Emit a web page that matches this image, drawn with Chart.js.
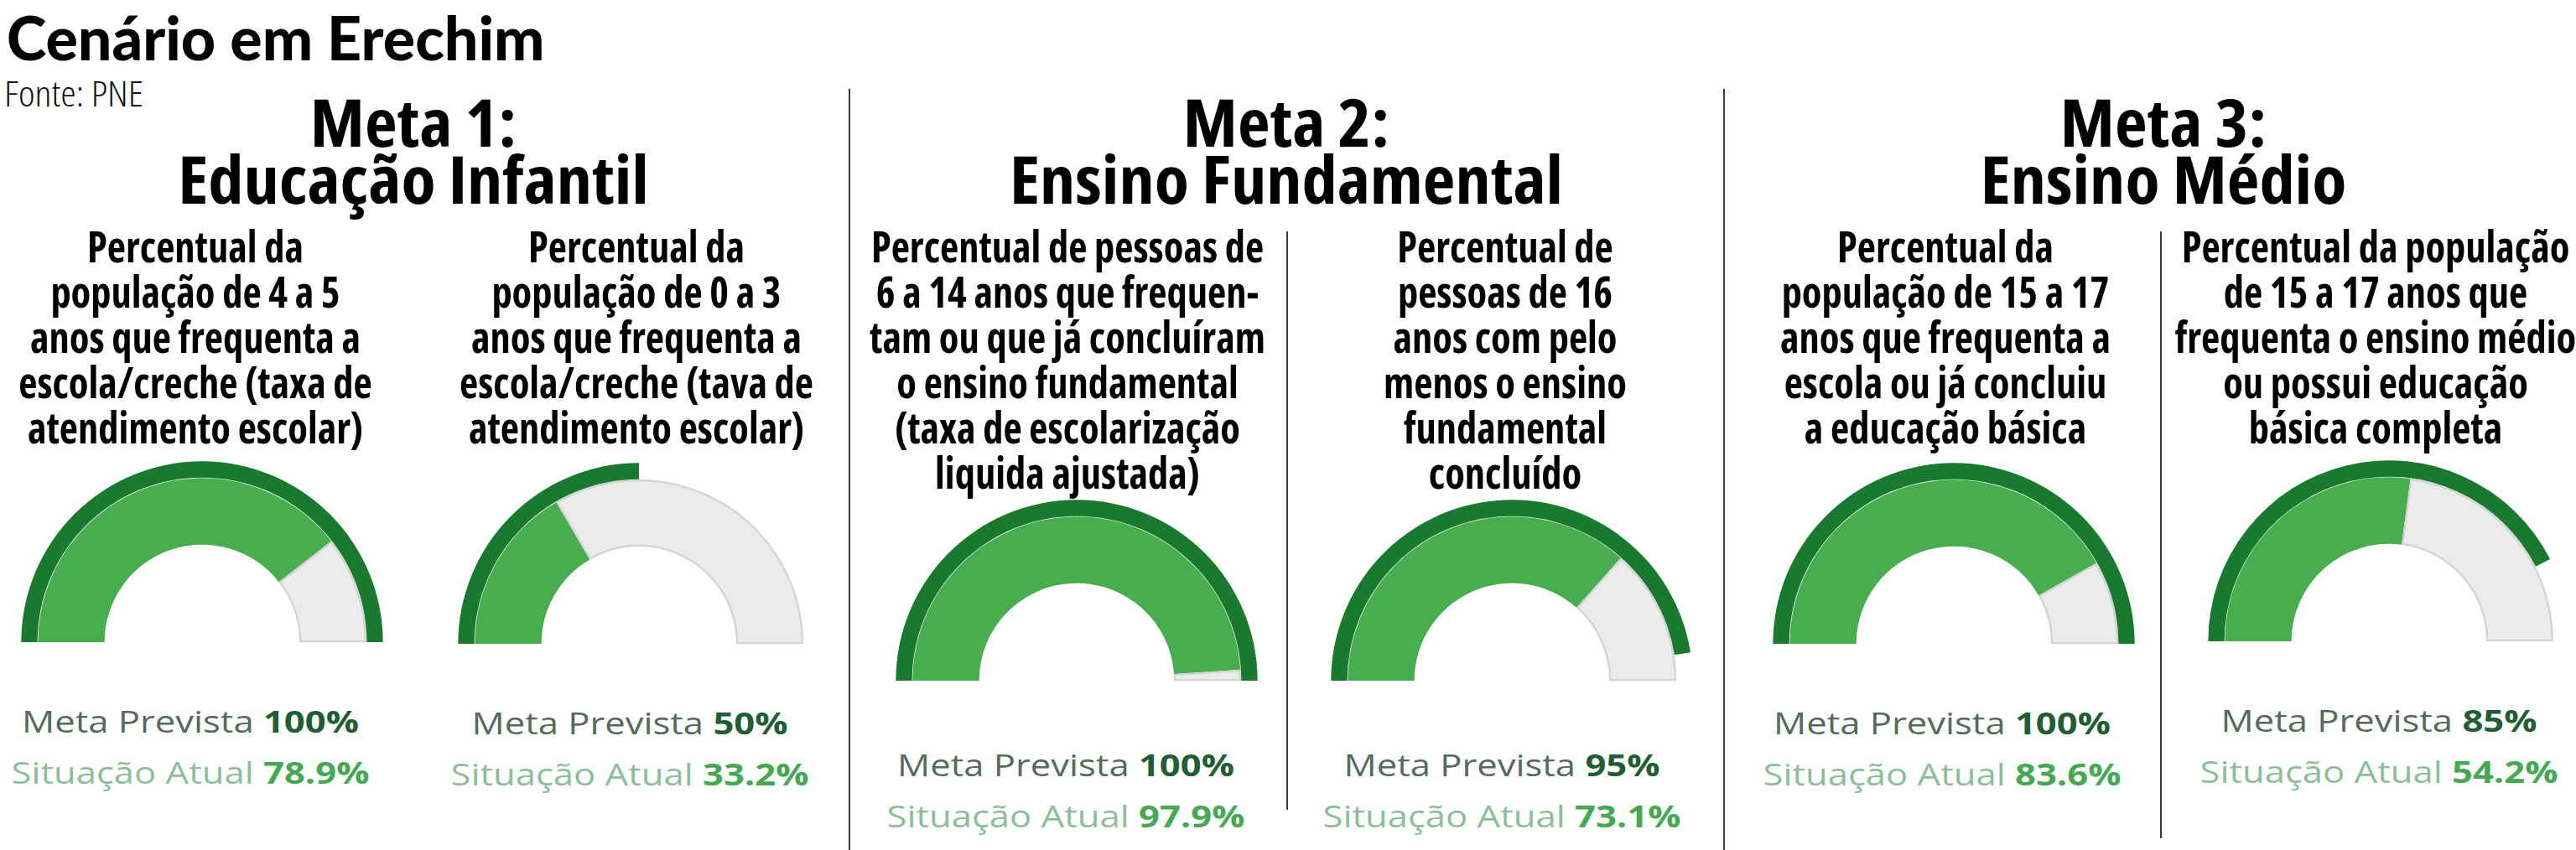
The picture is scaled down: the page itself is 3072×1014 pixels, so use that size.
<!DOCTYPE html>
<html>
<head>
<meta charset="utf-8">
<script src="https://cdn.jsdelivr.net/npm/chart.js@4.4.1/dist/chart.umd.min.js"></script>
<style>
  body { margin: 0; background: #fff; }
  #page { position: relative; width: 3072px; height: 1014px; overflow: hidden; background: #fff; }
  .txt { position: absolute; white-space: nowrap; transform-origin: 50% 0; }
  .cond { font-family: "Open Sans", "Noto Sans", sans-serif; font-weight: 700; color: #000; text-align: center; }
  .titulo { font-family: Lato, "Open Sans", sans-serif; font-weight: 900; font-size: 72px; line-height: 72px; color: #000; }
  .meta { font-size: 78px; line-height: 68px; font-stretch: 87.5%; }
  .ind { font-size: 52px; line-height: 54px; font-stretch: 75%; }
  .fonte { font-family: "Open Sans", sans-serif; font-weight: 300; font-size: 42px; line-height: 42px; font-stretch: 75%; color: #111; }
  .lab { font-family: "Open Sans", "Noto Sans", sans-serif; font-size: 36px; line-height: 36px; font-weight: 400; }
  .lab b { font-weight: 700; }
  .prev { color: #56695e; }
  .prev b { color: #1f5e34; }
  .atual { color: #8cbe9b; }
  .atual b { color: #45a853; }
  .sep { position: absolute; width: 2px; background: #3a3a3a; }
  .gauge { position: absolute; }
</style>
</head>
<body>
<div id="page"></div>
<script>
const metas = ['Meta 1:', 'Meta 2:', 'Meta 3:'];
const etapas = ['Educação Infantil', 'Ensino Fundamental', 'Ensino Médio'];
const indicadores = [
  ['Percentual da', 'população de 4 a 5', 'anos que frequenta a', 'escola/creche (taxa de', 'atendimento escolar)'],
  ['Percentual da', 'população de 0 a 3', 'anos que frequenta a', 'escola/creche (tava de', 'atendimento escolar)'],
  ['Percentual de pessoas de', '6 a 14 anos que frequen-', 'tam ou que já concluíram', 'o ensino fundamental', '(taxa de escolarização', 'liquida ajustada)'],
  ['Percentual de', 'pessoas de 16', 'anos com pelo', 'menos o ensino', 'fundamental', 'concluído'],
  ['Percentual da', 'população de 15 a 17', 'anos que frequenta a', 'escola ou já concluiu', 'a educação básica'],
  ['Percentual da população', 'de 15 a 17 anos que', 'frequenta o ensino médio', 'ou possui educação', 'básica completa']
];
const metaPrevista = [100, 50, 100, 95, 100, 85];
const situacaoAtual = [78.9, 33.2, 97.9, 73.1, 83.6, 54.2];

// posicoes
const headerX = [493, 1534, 2580];
const textX = [233, 759, 1273, 1795, 2320, 2833];
const gaugeX = [241, 762, 1284, 1803, 2330, 2849];
const gaugeBase = [766, 768, 812, 812, 768, 765];
const labelX = [227, 751, 1271, 1791, 2316, 2837];
const labelBase = [875, 877, 927, 927, 877, 874];

const verdeEscuro = '#197a2f';
const verde = '#48ad4f';
const cinza = '#ebebeb';

const page = document.getElementById('page');

function addText(cls, html, x, top) {
  const d = document.createElement('div');
  d.className = 'txt ' + cls;
  d.innerHTML = html;
  d.style.left = x + 'px';
  d.style.top = top + 'px';
  page.appendChild(d);
  return d;
}

function addSep(x, top, h) {
  const d = document.createElement('div');
  d.className = 'sep';
  d.style.left = x + 'px';
  d.style.top = top + 'px';
  d.style.height = h + 'px';
  page.appendChild(d);
}

const titulo = addText('titulo', 'Cenário em Erechim', 8, 8);
titulo.style.transformOrigin = '0 0';
const fonte = addText('fonte', 'Fonte: PNE', 5, 90);
fonte.style.transformOrigin = '0 0';

const headers = [];
metas.forEach((m, i) => {
  headers.push(addText('cond meta', m, headerX[i], 111));
  headers.push(addText('cond meta', etapas[i], headerX[i], 179));
});

const linhasInd = [];
let linhaRef = null;
indicadores.forEach((linhas, i) => {
  linhas.forEach((l, j) => {
    const d = addText('cond ind', l, textX[i], 266 + j * 54);
    if (i === 2 && j === 0) linhaRef = d;
    linhasInd.push(d);
  });
});

const labels = [];
metaPrevista.forEach((v, i) => {
  labels.push(addText('lab prev', 'Meta Prevista <b>' + v + '%</b>', labelX[i], labelBase[i] - 32));
  labels.push(addText('lab atual', 'Situação Atual <b>' + situacaoAtual[i] + '%</b>', labelX[i], labelBase[i] + 61 - 32));
});

addSep(1012, 106, 908);
addSep(2055, 106, 908);
addSep(1534, 276, 690);
addSep(2576, 276, 724);

function fit() {
  titulo.style.transform = 'scaleX(' + (642 / titulo.offsetWidth) + ')';
  fonte.style.transform = 'scaleX(' + (166 / fonte.offsetWidth) + ')';
  const hs = 660 / headers[3].offsetWidth;
  headers.forEach(h => h.style.transform = 'translateX(-50%) scaleX(' + hs + ')');
  const is = 468 / linhaRef.offsetWidth;
  linhasInd.forEach(b => b.style.transform = 'translateX(-50%) scaleX(' + is + ')');
  const ls = 402 / labels[0].offsetWidth;
  labels.forEach(l => l.style.transform = 'translateX(-50%) scaleX(' + ls + ')');
}
fit();
document.fonts.ready.then(fit);

metaPrevista.forEach((meta, i) => {
  const R = 216;
  const cv = document.createElement('canvas');
  cv.width = 2 * R;
  cv.height = 222;
  cv.className = 'gauge';
  cv.style.left = (gaugeX[i] - R) + 'px';
  cv.style.top = (gaugeBase[i] - 219) + 'px';
  page.appendChild(cv);
  const atual = situacaoAtual[i];
  new Chart(cv, {
    type: 'doughnut',
    data: {
      labels: ['valor', 'restante'],
      datasets: [
        {
          data: [meta, 100 - meta],
          backgroundColor: [verdeEscuro, 'rgba(0,0,0,0)'],
          borderWidth: 0,
          hoverBorderWidth: 0,
          borderAlign: 'inner',
          weight: 20
        },
        {
          data: [atual, 100 - atual],
          backgroundColor: [verde, cinza],
          borderColor: [verde, '#d3d3d3'],
          borderWidth: [0, 2],
          hoverBorderWidth: 0,
          borderAlign: 'inner',
          weight: 80
        }
      ]
    },
    options: {
      responsive: false,
      animation: false,
      events: [],
      rotation: -90,
      circumference: 180,
      cutout: '53.7%',
      layout: { padding: 0 },
      plugins: { legend: { display: false }, tooltip: { enabled: false } }
    }
  });
});
</script>
</body>
</html>
